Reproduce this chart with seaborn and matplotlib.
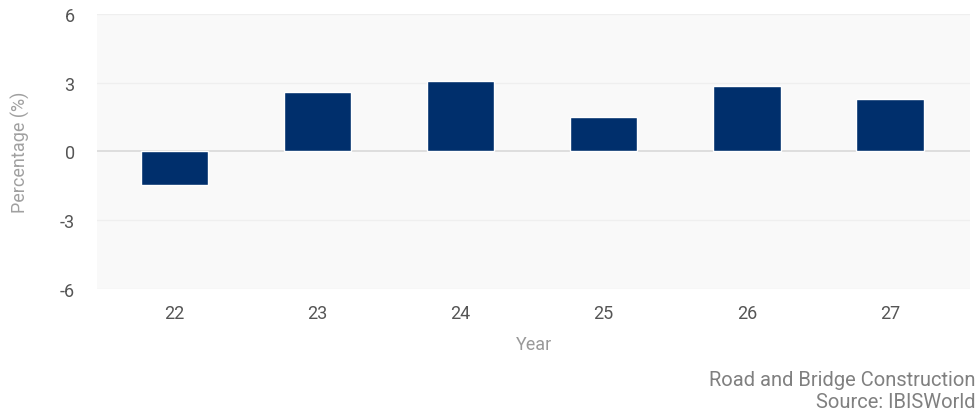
import matplotlib
matplotlib.use("Agg")
import matplotlib.pyplot as plt
import seaborn as sns
import pandas as pd

years = ["22", "23", "24", "25", "26", "27"]
values = [-1.45, 2.6, 3.05, 1.5, 2.85, 2.3]
yticks = [-6, -3, 0, 3, 6]

sns.set_theme(style="white")
plt.rcParams['font.family'] = ['Roboto', 'DejaVu Sans']

df = pd.DataFrame({"Year": years, "Value": values})

fig = plt.figure(figsize=(9.79, 4.14), dpi=100)
ax = fig.add_axes([0.099, 0.2995, 0.892, 0.665])
ax.set_facecolor("#f9f9f9")

for t in yticks:
    ax.axhline(t, color="#d9d9d9" if t == 0 else "#efefef", lw=1.2 if t == 0 else 1.0, zorder=0)

sns.barplot(data=df, x="Year", y="Value", color="#002F6C", width=0.47, ax=ax,
            saturation=1, zorder=3)

ax.set_ylim(-6, 6)
ax.set_xlim(-0.54, 5.56)
ax.set_yticks(yticks)
ax.set_yticklabels([str(t) for t in yticks])
for s in ax.spines.values():
    s.set_visible(False)
ax.tick_params(axis="x", length=4, color="#dddddd", labelsize=13, labelcolor="#555555", pad=7)
ax.tick_params(axis="y", length=0, labelsize=13, labelcolor="#555555", pad=16)
ax.set_xlabel("Year", fontsize=13, color="#999999", labelpad=9)
ax.set_ylabel("")
fig.text(0.021, 0.633, "Percentage (%)", rotation=90, fontsize=13, color="#a0a0a0",
         ha="center", va="center")

fig.text(0.996, 0.082, "Road and Bridge Construction", ha="right", va="center",
         fontsize=14.5, color="#808080")
fig.text(0.996, 0.006, "Source: IBISWorld", ha="right", va="bottom",
         fontsize=14.5, color="#808080")

fig.savefig("out.png", dpi=100)
